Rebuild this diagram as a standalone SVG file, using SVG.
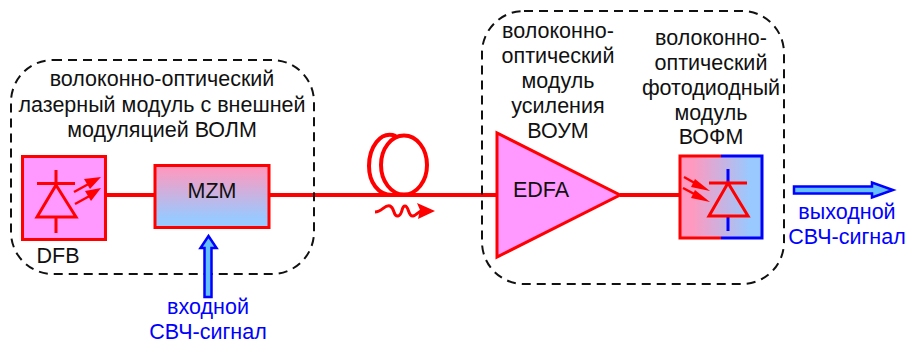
<svg xmlns="http://www.w3.org/2000/svg" width="906" height="345" viewBox="0 0 906 345">
<style>
text{font-family:"Liberation Sans",Arial,sans-serif;font-size:21.5px;fill:#111;text-anchor:middle}
.b{fill:#0000ff}
.box{fill:none;stroke:#111;stroke-width:2;stroke-dasharray:9 6}
.r{fill:none;stroke:#ff0000;stroke-width:4}
.d{fill:none;stroke:#ff0000;stroke-width:3}
.dv{fill:none;stroke:#0000ff;stroke-width:3}
.arr{fill:#66bfff;stroke:#0000ff;stroke-width:2.5}
</style>
<defs>
<linearGradient id="gv" x1="0" y1="0" x2="0" y2="1"><stop offset="0.05" stop-color="#ff99bf"/><stop offset="0.85" stop-color="#99c9ff"/></linearGradient>
<linearGradient id="gh" x1="0" y1="0" x2="1" y2="0"><stop offset="0.15" stop-color="#ff99bf"/><stop offset="0.85" stop-color="#99c9ff"/></linearGradient>
</defs>
<g id="connectors">
<path class="r" d="M106 195H155M270 195H497M620 195H680"/>
</g>
<g id="module-volm">
<rect class="box" x="11" y="60" width="303" height="214" rx="42"/>
<text x="162" y="86">волоконно-оптический</text>
<text x="162" y="112">лазерный модуль с внешней</text>
<text x="162" y="137">модуляцией ВОЛМ</text>
</g>
<g id="module-voum">
<rect class="box" x="482" y="11" width="302" height="273" rx="42"/>
<text x="558" y="38">волоконно-</text>
<text x="558" y="63">оптический</text>
<text x="558" y="88">модуль</text>
<text x="558" y="113">усиления</text>
<text x="558" y="138">ВОУМ</text>
<text x="711" y="45">волоконно-</text>
<text x="711" y="70">оптический</text>
<text x="711" y="95">фотодиодный</text>
<text x="711" y="120">модуль</text>
<text x="711" y="144">ВОФМ</text>
</g>
<g id="dfb">
<rect x="22.500" y="156.500" width="83" height="83" fill="#ff99ff" stroke="#ff0000" stroke-width="3"/>
<path class="d" d="M37 183.500H75M56 170V185L37 217H76L56 185M56 217V233"/>
<path d="M74 192L94 181M75 204L95 193" fill="none" stroke="#f00" stroke-width="2.500"/>
<path d="M101 177L84 179L90 189ZM101 188L85 191L91 201Z" fill="#f00"/>
<text x="58" y="263">DFB</text>
</g>
<g id="mzm">
<rect x="155" y="165.500" width="114" height="62" fill="url(#gv)" stroke="#ff0000" stroke-width="3"/>
<text x="212" y="198">MZM</text>
</g>
<g id="fiber">
<path class="r" d="M396 136C380 130 369 148 369 166C369 182 378 195 392 195"/>
<ellipse class="r" cx="404" cy="165" rx="23" ry="29.500"/>
<path d="M375 212C382 212 385 204 390 206C395 208 393 217 398 216C403 215 401 206 405 206C409 206 408 217 413 216C417 215 419 210 426 209" fill="none" stroke="#f00" stroke-width="3"/>
<path d="M435 211L417 203L420 210L418 219Z" fill="#f00"/>
</g>
<g id="edfa">
<path d="M497 133V257L620 195Z" fill="#ff99ff" stroke="#ff0000" stroke-width="3"/>
<text x="541" y="197">EDFA</text>
</g>
<g id="pd">
<rect x="680" y="156" width="82" height="82" fill="url(#gh)"/>
<path d="M721 156H680V238H721" fill="none" stroke="#ff0000" stroke-width="3"/>
<path d="M721 156H762V238H721" fill="none" stroke="#0000ff" stroke-width="3"/>
<path class="dv" d="M728 169V183M728 217V231"/>
<path class="d" d="M709 183H747M728 183L709 216H748Z"/>
<path d="M684 177L700 186M683 188L700 197" fill="none" stroke="#f00" stroke-width="2.500"/>
<path d="M710 191L695 179L691 187ZM710 202L695 190L691 198Z" fill="#f00"/>
</g>
<g id="input-signal">
<path class="arr" d="M204.500 297V248H200.500L208.500 236L216.500 248H211.500V297Z"/>
<text class="b" x="208" y="314">входной</text>
<text class="b" x="208" y="339">СВЧ-сигнал</text>
</g>
<g id="output-signal">
<path class="arr" d="M794 186.500H872V182.500L893 190L872 197.500V193.500H794Z"/>
<text class="b" x="847" y="219">выходной</text>
<text class="b" x="847" y="244">СВЧ-сигнал</text>
</g>
</svg>
